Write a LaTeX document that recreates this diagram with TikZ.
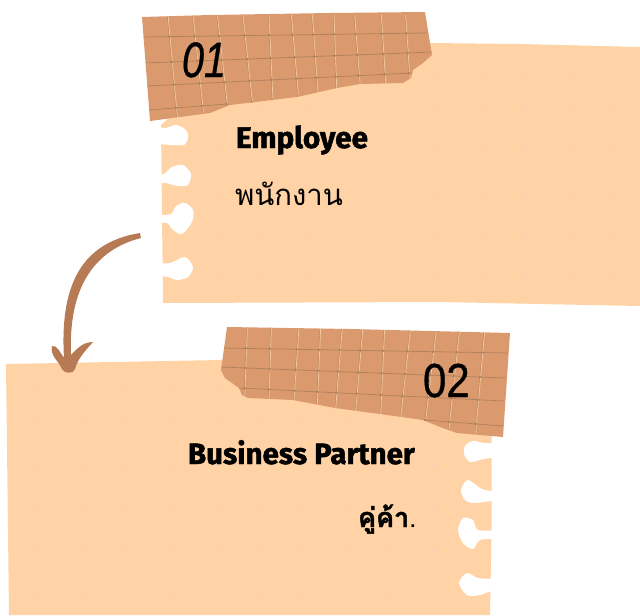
\documentclass[tikz,border=0pt]{standalone}
\usepackage{fontspec}
\setmainfont{Fira Sans}
\newfontfamily\thaifont[Script=Thai]{Loma}
\newfontfamily\thaiheavy[Script=Thai,FakeBold=1.6]{Loma}
\newfontfamily\latinbold[FakeBold=1.6]{Fira Sans}
\newfontfamily\numfont[FakeBold=0.8]{Liberation Sans}
\definecolor{paper}{HTML}{FFD3A5}
\definecolor{tape}{HTML}{DB9A6E}
\definecolor{griddark}{HTML}{B0815C}
\definecolor{gridlight}{HTML}{F0C9A2}
\definecolor{arrowcol}{HTML}{B67B55}
\definecolor{dotcol}{HTML}{E8D3C0}
\tikzset{
  sheet/.style={fill=paper,draw=none},
  tapefill/.style={fill=tape,draw=none},
  notch/.style={fill=white,draw=none},
  gridv/.style={draw=gridlight,line width=0.55pt},
  gridh/.style={draw=griddark,line width=0.55pt},
  gridvd/.style={draw=griddark!70!tape,line width=0.5pt},
  txt/.style={inner sep=0pt,outer sep=0pt,anchor=base west,text=black},
  paperdot/.style={fill=dotcol,draw=none},
  griddot/.style={fill=griddark,draw=none}
}
\begin{document}
\begin{tikzpicture}[x=0.75pt,y=-0.75pt]
\useasboundingbox (0,0) rectangle (640,615);
% sheet 1
\path[sheet] (161,125) -- (190,100) -- (431,43) -- (520,44) -- (640,47) -- (640,306) -- (540,304) -- (440,302) -- (163,303) -- cycle;
\foreach \y in {72,108,149,195,236,277}
  \foreach \x in {218,262,307,352,392,437,482,526,571,615}
    \path[paperdot] (\x,\y) circle (1.5);
\path[notch] plot[smooth] coordinates {(155,126) (165,128) (176,125) (186,130) (188,138) (184,145) (174,145) (155,144)} -- cycle;
\path[notch] plot[smooth] coordinates {(155,175) (164,174) (172,167) (183,165) (191,174) (188,185) (178,186) (166,183) (155,183)} -- cycle;
\path[notch] plot[smooth] coordinates {(155,215) (171,214) (176,206) (185,203) (193,210) (192,222) (182,234) (173,230) (167,223) (155,223)} -- cycle;
\path[notch] plot[smooth] coordinates {(155,263) (170,263) (185,257) (193,267) (188,277) (177,280) (168,277) (155,276)} -- cycle;
% sheet 2
\path[sheet] (6,364) -- (221,360) -- (240,358) -- (491.7,436) -- (491.7,520) -- (490,615) -- (9,615) -- cycle;
\foreach \y in {388,423,465,510,551,592}
  \foreach \x in {37,82,127,172,217,260,300,345,390,433}
    \path[paperdot] (\x,\y) circle (1.5);
\path[notch] plot[smooth] coordinates {(498,443) (484,443) (473,441) (465,446) (464,454) (470,462) (484,459) (498,457)} -- cycle;
\path[notch] plot[smooth] coordinates {(498,492) (482,489) (468,480) (461,490) (465,500) (475,503) (498,500)} -- cycle;
\path[notch] plot[smooth] coordinates {(498,530) (478,530) (473,520) (463,518) (458,530) (463,543) (473,549) (480,540) (498,539)} -- cycle;
\path[notch] plot[smooth] coordinates {(498,579) (478,578) (467,573) (459,583) (467,595) (480,595) (498,588)} -- cycle;
% arrow
\path[fill=arrowcol,draw=none] (140,233) -- (141,238) .. controls (102,248) and (68,278) .. (71,355)
  .. controls (76,350) and (82,342) .. (93,342)
  .. controls (86,350) and (78,358) .. (75,369)
  .. controls (74,374) and (64,374) .. (62,369)
  .. controls (58,360) and (50,356) .. (52,346)
  .. controls (57,345) and (60,352) .. (64,358)
  .. controls (60,290) and (78,243) .. (140,233) -- cycle;
% tape 1
\begin{scope}
\clip (142,17) -- (210,15) -- (330,13) -- (425,12) -- (432,55) -- (423,63) -- (413,70) -- (411,78) -- (403,83) -- (360,84) -- (337,88) -- (297,97) -- (230,105) -- (210,113) -- (150,121) -- cycle;
\path[tapefill] (130,0) rectangle (440,130);
\foreach \a/\b/\c/\d in {167.3/15/176.7/117,192.3/15/202.7/112,216.7/15/226.7/105,242.3/15/251.7/102,268.3/15/272.3/100,290.7/15/297.7/95,311.7/15/317.3/92,333.3/15/336/88,354/15/359.3/83,380.7/15/385/83,405/15/409.3/80}
  {\draw[gridvd] (\a,\b) -- (\c,\d);
   \draw[gridv] (\a+0.7,\b) -- (\c+0.7,\d);}
\foreach \e/\f/\g/\h in {143/37/427/33,145/63/432/52,147/86/412/73,148/110/227/104}
  \draw[gridh] (\e,\f) -- (\g,\h);
\foreach \a/\b/\c/\d in {167.3/15/176.7/117,192.3/15/202.7/112,216.7/15/226.7/105,242.3/15/251.7/102,268.3/15/272.3/100,290.7/15/297.7/95,311.7/15/317.3/92,333.3/15/336/88,354/15/359.3/83,380.7/15/385/83,405/15/409.3/80}
  \foreach \e/\f/\g/\h in {143/37/427/33,145/63/432/52,147/86/412/73,148/110/227/104}
    \path[griddot] (intersection cs: first line={(\a,\b)--(\c,\d)}, second line={(\e,\f)--(\g,\h)}) circle (1.4);
\end{scope}
% tape 2
\begin{scope}
\clip (227,327) -- (350,329) -- (510,333) -- (503,437) -- (457,433) -- (440,427) -- (423,420) -- (380,414) -- (335,408) -- (293,400) -- (248,398) -- (242,395) -- (239,388) -- (225,378) -- (221,370) -- cycle;
\path[tapefill] (215,320) rectangle (515,440);
\foreach \a/\b/\c/\d in {246.7/327/244/398,270.7/327/268.3/399,298.3/327/293.3/400,320/327/316.7/403,341.7/327/335/408,362.3/327/355/411,384/327/380/415,410/327/400/418,436/327/425/420,459.3/327/448.3/428,484.3/327/475/433}
  {\draw[gridvd] (\a,\b) -- (\c,\d);
   \draw[gridv] (\a+0.7,\b) -- (\c+0.7,\d);}
\foreach \e/\f/\g/\h in {221/348/508/353,221/367/505/378,239/388/504/401,425/420/503/426}
  \draw[gridh] (\e,\f) -- (\g,\h);
\foreach \a/\b/\c/\d in {246.7/327/244/398,270.7/327/268.3/399,298.3/327/293.3/400,320/327/316.7/403,341.7/327/335/408,362.3/327/355/411,384/327/380/415,410/327/400/418,436/327/425/420,459.3/327/448.3/428,484.3/327/475/433}
  \foreach \e/\f/\g/\h in {221/348/508/353,221/367/505/378,239/388/504/401}
    \path[griddot] (intersection cs: first line={(\a,\b)--(\c,\d)}, second line={(\e,\f)--(\g,\h)}) circle (1.4);
\foreach \a/\b/\c/\d in {436/327/425/420,459.3/327/448.3/428,484.3/327/475/433}
  \path[griddot] (intersection cs: first line={(\a,\b)--(\c,\d)}, second line={(425,420)--(503,426)}) circle (1.4);
\end{scope}
% texts
\node[txt] (n01) at (182,77) {\resizebox{33pt}{26pt}{\numfont\itshape 01}};
\node[txt] (emp) at (236,148) {\resizebox{99pt}{!}{\latinbold\bfseries Employee}};
\node[txt] (empth) at (235,205) {\resizebox{81pt}{!}{\thaifont พนักงาน}};
\node[txt] (n02) at (423,397) {\resizebox{35pt}{25pt}{\numfont 02}};
\node[txt] (bp) at (188,464) {\resizebox{170pt}{!}{\latinbold\bfseries Business Partner}};
\node[txt] (bpth) at (358,527) {\resizebox{44pt}{!}{\thaiheavy\bfseries คู่ค้า{\thaifont\mdseries .}}};
\end{tikzpicture}
\end{document}
